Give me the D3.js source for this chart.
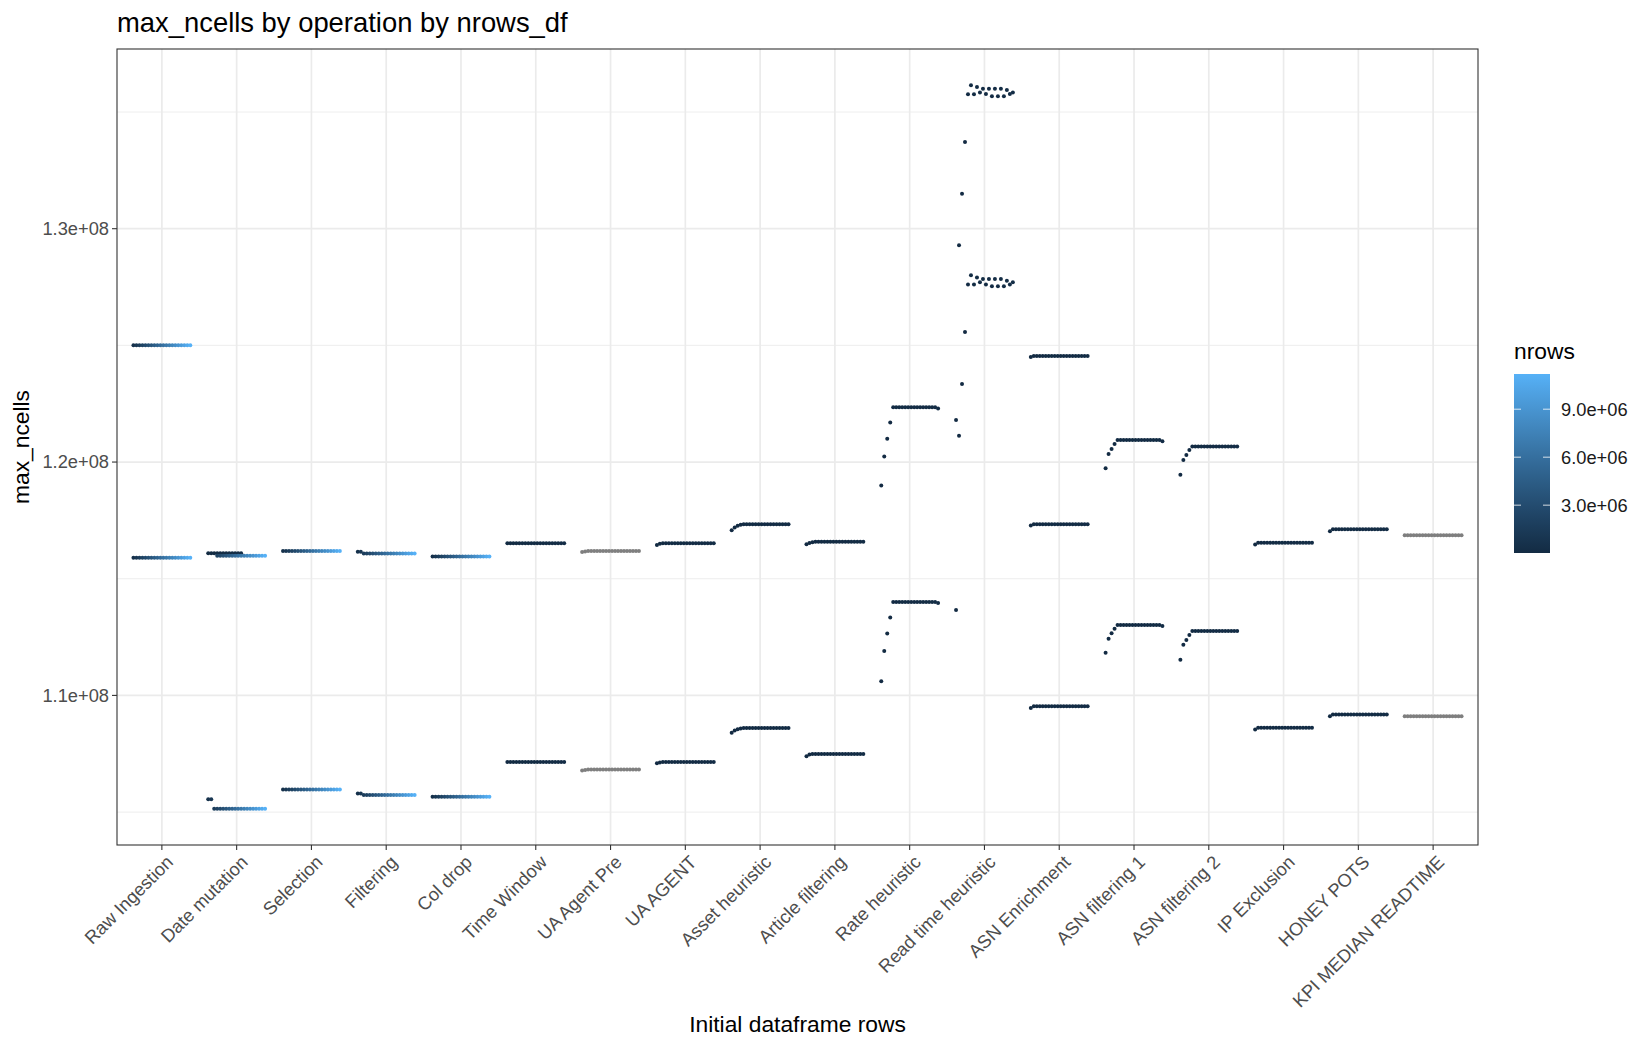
<!DOCTYPE html>
<html>
<head>
<meta charset="utf-8">
<script src="https://cdn.jsdelivr.net/npm/d3@7"></script>
<style>
  body { margin: 0; background: #fff; }
  text { font-family: "Liberation Sans", Arial, Helvetica, sans-serif; }
</style>
</head>
<body>
<div id="chart"></div>
<script>
// operations on the x axis
var operations = ["Raw Ingestion", "Date mutation", "Selection", "Filtering", "Col drop",
  "Time Window", "UA Agent Pre", "UA AGENT", "Asset heuristic", "Article filtering",
  "Rate heuristic", "Read time heuristic", "ASN Enrichment", "ASN filtering 1",
  "ASN filtering 2", "IP Exclusion", "HONEY POTS", "KPI MEDIAN READTIME"];

// nrows_df levels (millions), one dodge slot each
var nrowsDf = [0.56, 1.12, 1.68, 2.24, 2.8, 3.36, 3.92, 4.48, 5.04, 5.6,
  6.16, 6.72, 7.28, 7.84, 8.4, 8.96, 9.52, 10.08, 10.64, 11.2];
// rows left once the time window is applied (millions)
var nrowsWindow = [0.01, 0.02, 0.03, 0.04, 0.05, 0.06, 0.07, 0.08, 0.09, 0.1,
  0.11, 0.12, 0.13, 0.14, 0.15, 0.16, 0.17, 0.18, 0.19, 0.2];

// max_ncells (millions), one array per run, 20 values in nrows_df order
var rawIngestion = [
  [125, 125, 125, 125, 125, 125, 125, 125, 125, 125, 125, 125, 125, 125, 125, 125, 125, 125, 125, 125],
  [115.9, 115.9, 115.9, 115.9, 115.9, 115.9, 115.9, 115.9, 115.9, 115.9, 115.9, 115.9, 115.9, 115.9, 115.9, 115.9, 115.9, 115.9, 115.9, 115.9]];
var dateMutation = [
  [116.09, 116.09, 116.09, 116.09, 116.09, 116.09, 116.09, 116.09, 116.09, 116.09, 116.09, 116.09, null, null, null, null, null, null, null, null],
  [null, null, null, 115.99, 115.99, 115.99, 115.99, 115.99, 115.99, 115.99, 115.99, 115.99, 115.99, 115.99, 115.99, 115.99, 115.99, 115.99, 115.99, 115.99],
  [105.55, 105.55, 105.14, 105.14, 105.14, 105.14, 105.14, 105.14, 105.14, 105.14, 105.14, 105.14, 105.14, 105.14, 105.14, 105.14, 105.14, 105.14, 105.14, 105.14]];
var selection = [
  [116.19, 116.19, 116.19, 116.19, 116.19, 116.19, 116.19, 116.19, 116.19, 116.19, 116.19, 116.19, 116.19, 116.19, 116.19, 116.19, 116.19, 116.19, 116.19, 116.19],
  [105.97, 105.97, 105.97, 105.97, 105.97, 105.97, 105.97, 105.97, 105.97, 105.97, 105.97, 105.97, 105.97, 105.97, 105.97, 105.97, 105.97, 105.97, 105.97, 105.97]];
var filtering = [
  [116.16, 116.16, 116.08, 116.08, 116.08, 116.08, 116.08, 116.08, 116.08, 116.08, 116.08, 116.08, 116.08, 116.08, 116.08, 116.08, 116.08, 116.08, 116.08, 116.08],
  [105.8, 105.8, 105.73, 105.73, 105.73, 105.73, 105.73, 105.73, 105.73, 105.73, 105.73, 105.73, 105.73, 105.73, 105.73, 105.73, 105.73, 105.73, 105.73, 105.73]];
var colDrop = [
  [115.95, 115.95, 115.95, 115.95, 115.95, 115.95, 115.95, 115.95, 115.95, 115.95, 115.95, 115.95, 115.95, 115.95, 115.95, 115.95, 115.95, 115.95, 115.95, 115.95],
  [105.66, 105.66, 105.66, 105.66, 105.66, 105.66, 105.66, 105.66, 105.66, 105.66, 105.66, 105.66, 105.66, 105.66, 105.66, 105.66, 105.66, 105.66, 105.66, 105.66]];
var timeWindow = [
  [116.52, 116.52, 116.52, 116.52, 116.52, 116.52, 116.52, 116.52, 116.52, 116.52, 116.52, 116.52, 116.52, 116.52, 116.52, 116.52, 116.52, 116.52, 116.52, 116.52],
  [107.15, 107.15, 107.15, 107.15, 107.15, 107.15, 107.15, 107.15, 107.15, 107.15, 107.15, 107.15, 107.15, 107.15, 107.15, 107.15, 107.15, 107.15, 107.15, 107.15]];
var uaAgentPre = [
  [116.15, 116.17, 116.19, 116.19, 116.19, 116.19, 116.19, 116.19, 116.19, 116.19, 116.19, 116.19, 116.19, 116.19, 116.19, 116.19, 116.19, 116.19, 116.19, 116.19],
  [106.78, 106.8, 106.82, 106.82, 106.82, 106.82, 106.82, 106.82, 106.82, 106.82, 106.82, 106.82, 106.82, 106.82, 106.82, 106.82, 106.82, 106.82, 106.82, 106.82]];
var uaAgent = [
  [116.45, 116.5, 116.52, 116.52, 116.52, 116.52, 116.52, 116.52, 116.52, 116.52, 116.52, 116.52, 116.52, 116.52, 116.52, 116.52, 116.52, 116.52, 116.52, 116.52],
  [107.09, 107.13, 107.15, 107.15, 107.15, 107.15, 107.15, 107.15, 107.15, 107.15, 107.15, 107.15, 107.15, 107.15, 107.15, 107.15, 107.15, 107.15, 107.15, 107.15]];
var assetHeuristic = [
  [117.08, 117.2, 117.27, 117.31, 117.33, 117.33, 117.33, 117.33, 117.33, 117.33, 117.33, 117.33, 117.33, 117.33, 117.33, 117.33, 117.33, 117.33, 117.33, 117.33],
  [108.4, 108.5, 108.55, 108.58, 108.6, 108.6, 108.6, 108.6, 108.6, 108.6, 108.6, 108.6, 108.6, 108.6, 108.6, 108.6, 108.6, 108.6, 108.6, 108.6]];
var articleFiltering = [
  [116.48, 116.53, 116.56, 116.58, 116.58, 116.58, 116.58, 116.58, 116.58, 116.58, 116.58, 116.58, 116.58, 116.58, 116.58, 116.58, 116.58, 116.58, 116.58, 116.58],
  [107.39, 107.47, 107.49, 107.49, 107.49, 107.49, 107.49, 107.49, 107.49, 107.49, 107.49, 107.49, 107.49, 107.49, 107.49, 107.49, 107.49, 107.49, 107.49, 107.49]];
var rateHeuristic = [
  [119.0, 120.24, 121.0, 121.69, 122.35, 122.35, 122.35, 122.35, 122.35, 122.35, 122.35, 122.35, 122.35, 122.35, 122.35, 122.35, 122.35, 122.35, 122.35, 122.3],
  [110.61, 111.9, 112.65, 113.34, 114.0, 114.0, 114.0, 114.0, 114.0, 114.0, 114.0, 114.0, 114.0, 114.0, 114.0, 114.0, 114.0, 114.0, 114.0, 113.96]];
var readTimeHeuristic = [
  [121.8, 129.29, 131.5, 133.72, 135.76, 136.15, 135.76, 136.07, 135.84, 136.0, 135.77, 136.0, 135.68, 136.0, 135.68, 136.0, 135.68, 135.94, 135.77, 135.84],
  [113.66, 121.13, 123.35, 125.57, 127.61, 128.0, 127.61, 127.91, 127.7, 127.84, 127.61, 127.84, 127.53, 127.84, 127.53, 127.84, 127.53, 127.77, 127.61, 127.7]];
var asnEnrichment = [
  [124.5, 124.54, 124.54, 124.54, 124.54, 124.54, 124.54, 124.54, 124.54, 124.54, 124.54, 124.54, 124.54, 124.54, 124.54, 124.54, 124.54, 124.54, 124.54, 124.54],
  [117.28, 117.33, 117.33, 117.33, 117.33, 117.33, 117.33, 117.33, 117.33, 117.33, 117.33, 117.33, 117.33, 117.33, 117.33, 117.33, 117.33, 117.33, 117.33, 117.33],
  [109.46, 109.54, 109.54, 109.54, 109.54, 109.54, 109.54, 109.54, 109.54, 109.54, 109.54, 109.54, 109.54, 109.54, 109.54, 109.54, 109.54, 109.54, 109.54, 109.54]];
var asnFiltering1 = [
  [119.73, 120.34, 120.56, 120.77, 120.94, 120.94, 120.94, 120.94, 120.94, 120.94, 120.94, 120.94, 120.94, 120.94, 120.94, 120.94, 120.94, 120.94, 120.94, 120.89],
  [111.83, 112.43, 112.66, 112.86, 113.02, 113.02, 113.02, 113.02, 113.02, 113.02, 113.02, 113.02, 113.02, 113.02, 113.02, 113.02, 113.02, 113.02, 113.02, 112.97]];
var asnFiltering2 = [
  [119.46, 120.09, 120.3, 120.52, 120.67, 120.67, 120.67, 120.67, 120.67, 120.67, 120.67, 120.67, 120.67, 120.67, 120.67, 120.67, 120.67, 120.67, 120.67, 120.67],
  [111.53, 112.17, 112.37, 112.59, 112.76, 112.76, 112.76, 112.76, 112.76, 112.76, 112.76, 112.76, 112.76, 112.76, 112.76, 112.76, 112.76, 112.76, 112.76, 112.76]];
var ipExclusion = [
  [116.47, 116.54, 116.54, 116.54, 116.54, 116.54, 116.54, 116.54, 116.54, 116.54, 116.54, 116.54, 116.54, 116.54, 116.54, 116.54, 116.54, 116.54, 116.54, 116.54],
  [108.54, 108.61, 108.61, 108.61, 108.61, 108.61, 108.61, 108.61, 108.61, 108.61, 108.61, 108.61, 108.61, 108.61, 108.61, 108.61, 108.61, 108.61, 108.61, 108.61]];
var honeyPots = [
  [117.03, 117.12, 117.12, 117.12, 117.12, 117.12, 117.12, 117.12, 117.12, 117.12, 117.12, 117.12, 117.12, 117.12, 117.12, 117.12, 117.12, 117.12, 117.12, 117.12],
  [109.11, 109.18, 109.18, 109.18, 109.18, 109.18, 109.18, 109.18, 109.18, 109.18, 109.18, 109.18, 109.18, 109.18, 109.18, 109.18, 109.18, 109.18, 109.18, 109.18]];
var kpiMedianReadtime = [
  [116.86, 116.86, 116.86, 116.86, 116.86, 116.86, 116.86, 116.86, 116.86, 116.86, 116.86, 116.86, 116.86, 116.86, 116.86, 116.86, 116.86, 116.86, 116.86, 116.86],
  [109.11, 109.11, 109.11, 109.11, 109.11, 109.11, 109.11, 109.11, 109.11, 109.11, 109.11, 109.11, 109.11, 109.11, 109.11, 109.11, 109.11, 109.11, 109.11, 109.11]];

var opSeries = [rawIngestion, dateMutation, selection, filtering, colDrop, timeWindow,
  uaAgentPre, uaAgent, assetHeuristic, articleFiltering, rateHeuristic, readTimeHeuristic,
  asnEnrichment, asnFiltering1, asnFiltering2, ipExclusion, honeyPots, kpiMedianReadtime];

// which nrows each run is coloured by (null = NA, grey)
var rowSource = [["df", "df"], ["window", "df", "df"], ["df", "df"], ["df", "df"], ["df", "df"],
  ["window", "window"], [null, null], ["window", "window"], ["window", "window"],
  ["window", "window"], ["window", "window"], ["window", "window"],
  ["window", "window", "window"], ["window", "window"], ["window", "window"],
  ["window", "window"], ["window", "window"], [null, null]];

// axis ticks
var yTicks = [110, 120, 130];
var yTickLabels = ["1.1e+08", "1.2e+08", "1.3e+08"];
var yMinor = [105, 115, 125, 135];
var legendTicks = [3, 6, 9];
var legendTickLabels = ["3.0e+06", "6.0e+06", "9.0e+06"];

var W = 1650, H = 1050;
var panel = {left: 117, right: 1478, top: 49, bottom: 845};
var titleSize = 27.4, axisTitleSize = 22.8, tickSize = 18.3;

var svg = d3.select("#chart")
  .append("svg")
  .attr("width", W)
  .attr("height", H)
  .style("background", "#fff");

// build points
var points = [];
opSeries.forEach(function(seriesList, k) {
  seriesList.forEach(function(vals, s) {
    var src = rowSource[k][s];
    vals.forEach(function(v, i) {
      if (v === null) return;
      var nr = src === "df" ? nrowsDf[i] : (src === "window" ? nrowsWindow[i] : null);
      points.push({op: operations[k], slot: i, value: v, nrows: nr});
    });
  });
});

// scales
var x = d3.scalePoint()
  .domain(operations)
  .range([panel.left, panel.right])
  .padding(0.6);
var step = x.step();
var dodge = d3.scaleBand()
  .domain(d3.range(nrowsDf.length))
  .range([-0.4 * step, 0.4 * step]);

var ext = d3.extent(points, function(d) { return d.value; });
var pad = (ext[1] - ext[0]) * 0.05;
var y = d3.scaleLinear()
  .domain([ext[0] - pad, ext[1] + pad])
  .range([panel.bottom, panel.top]);

var nrowsExt = d3.extent(points.filter(function(d) { return d.nrows !== null; }), function(d) { return d.nrows; });
var color = d3.scaleLinear()
  .domain(nrowsExt)
  .range(["#132B43", "#56B1F7"])
  .interpolate(d3.interpolateLab);

// grid
var grid = svg.append("g");
grid.selectAll("line.minor")
  .data(yMinor)
  .enter()
  .append("line")
  .attr("x1", panel.left).attr("x2", panel.right)
  .attr("y1", function(d) { return y(d); })
  .attr("y2", function(d) { return y(d); })
  .attr("stroke", "#EBEBEB")
  .attr("stroke-width", 0.9);
grid.selectAll("line.majorY")
  .data(yTicks)
  .enter()
  .append("line")
  .attr("x1", panel.left).attr("x2", panel.right)
  .attr("y1", function(d) { return y(d); })
  .attr("y2", function(d) { return y(d); })
  .attr("stroke", "#EBEBEB")
  .attr("stroke-width", 1.7);
grid.selectAll("line.majorX")
  .data(operations)
  .enter()
  .append("line")
  .attr("x1", function(d) { return x(d); })
  .attr("x2", function(d) { return x(d); })
  .attr("y1", panel.top).attr("y2", panel.bottom)
  .attr("stroke", "#EBEBEB")
  .attr("stroke-width", 1.7);

// points
svg.append("g")
  .selectAll("circle")
  .data(points)
  .enter()
  .append("circle")
  .attr("cx", function(d) { return x(d.op) + dodge(d.slot) + dodge.bandwidth() / 2; })
  .attr("cy", function(d) { return y(d.value); })
  .attr("r", 2.0)
  .attr("fill", function(d) { return d.nrows === null ? "#7F7F7F" : color(d.nrows); });

// panel border
svg.append("rect")
  .attr("x", panel.left).attr("y", panel.top)
  .attr("width", panel.right - panel.left)
  .attr("height", panel.bottom - panel.top)
  .attr("fill", "none")
  .attr("stroke", "#333333")
  .attr("stroke-width", 1.1);

// y axis ticks and labels
svg.selectAll("line.ytick")
  .data(yTicks)
  .enter()
  .append("line")
  .attr("x1", panel.left - 5).attr("x2", panel.left)
  .attr("y1", function(d) { return y(d); })
  .attr("y2", function(d) { return y(d); })
  .attr("stroke", "#333333")
  .attr("stroke-width", 1.1);
svg.selectAll("text.ylab")
  .data(yTicks)
  .enter()
  .append("text")
  .attr("x", panel.left - 8)
  .attr("y", function(d) { return y(d); })
  .attr("dy", "0.35em")
  .attr("text-anchor", "end")
  .attr("font-size", tickSize)
  .attr("fill", "#4D4D4D")
  .text(function(d, i) { return yTickLabels[i]; });

// x axis ticks and rotated labels
svg.selectAll("line.xtick")
  .data(operations)
  .enter()
  .append("line")
  .attr("x1", function(d) { return x(d); })
  .attr("x2", function(d) { return x(d); })
  .attr("y1", panel.bottom).attr("y2", panel.bottom + 5)
  .attr("stroke", "#333333")
  .attr("stroke-width", 1.1);
svg.selectAll("text.xlab")
  .data(operations)
  .enter()
  .append("text")
  .attr("transform", function(d) { return "translate(" + x(d) + "," + (panel.bottom + 6) + ") rotate(-45)"; })
  .attr("dy", "0.95em")
  .attr("text-anchor", "end")
  .attr("font-size", tickSize)
  .attr("fill", "#4D4D4D")
  .text(function(d) { return d; });

// titles
svg.append("text")
  .attr("x", panel.left)
  .attr("y", 32)
  .attr("font-size", titleSize)
  .attr("fill", "#000")
  .text("max_ncells by operation by nrows_df");
svg.append("text")
  .attr("x", (panel.left + panel.right) / 2)
  .attr("y", 1032)
  .attr("text-anchor", "middle")
  .attr("font-size", axisTitleSize)
  .attr("fill", "#000")
  .text("Initial dataframe rows");
svg.append("text")
  .attr("transform", "translate(29," + ((panel.top + panel.bottom) / 2) + ") rotate(-90)")
  .attr("text-anchor", "middle")
  .attr("font-size", axisTitleSize)
  .attr("fill", "#000")
  .text("max_ncells");

// legend colourbar
var lx = 1514, lw = 36;
var ly = d3.scaleLinear()
  .domain(nrowsExt)
  .range([553, 374]);
var grad = svg.append("defs")
  .append("linearGradient")
  .attr("id", "nrowsGrad")
  .attr("x1", "0").attr("y1", "1").attr("x2", "0").attr("y2", "0");
d3.range(0, 1.0001, 0.1).forEach(function(t) {
  grad.append("stop")
    .attr("offset", t)
    .attr("stop-color", color(nrowsExt[0] + t * (nrowsExt[1] - nrowsExt[0])));
});
svg.append("text")
  .attr("x", lx)
  .attr("y", 359)
  .attr("font-size", axisTitleSize)
  .attr("fill", "#000")
  .text("nrows");
svg.append("rect")
  .attr("x", lx)
  .attr("y", ly(nrowsExt[1]))
  .attr("width", lw)
  .attr("height", ly(nrowsExt[0]) - ly(nrowsExt[1]))
  .attr("fill", "url(#nrowsGrad)");
legendTicks.forEach(function(t, i) {
  svg.append("line")
    .attr("x1", lx).attr("x2", lx + 7)
    .attr("y1", ly(t)).attr("y2", ly(t))
    .attr("stroke", "#fff").attr("stroke-opacity", 0.8).attr("stroke-width", 1);
  svg.append("line")
    .attr("x1", lx + lw - 7).attr("x2", lx + lw)
    .attr("y1", ly(t)).attr("y2", ly(t))
    .attr("stroke", "#fff").attr("stroke-opacity", 0.8).attr("stroke-width", 1);
  svg.append("text")
    .attr("x", lx + lw + 11)
    .attr("y", ly(t))
    .attr("dy", "0.35em")
    .attr("font-size", tickSize)
    .attr("fill", "#1A1A1A")
    .text(legendTickLabels[i]);
});
</script>
</body>
</html>
